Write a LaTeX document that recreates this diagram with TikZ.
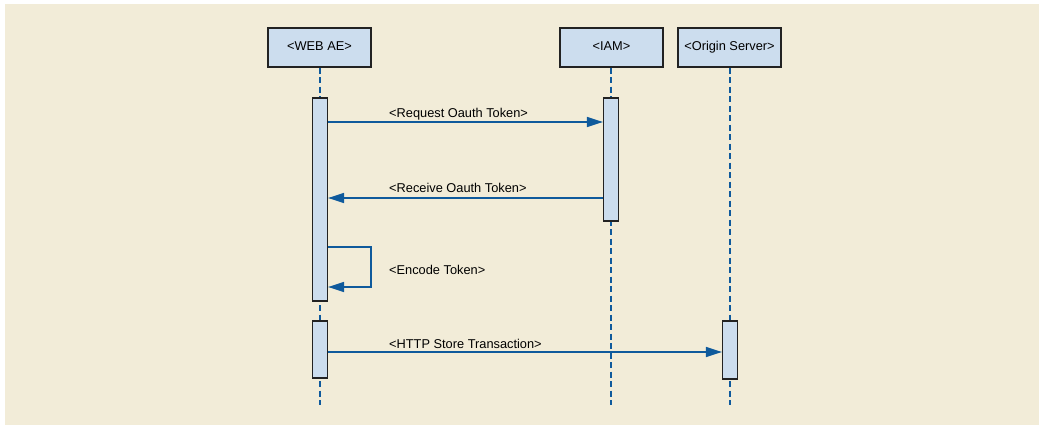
\documentclass[tikz,border=0pt]{standalone}
\usepackage{fontspec}
\setmainfont{Liberation Sans}
\usetikzlibrary{arrows.meta}
\definecolor{bgbeige}{HTML}{F2ECD8}
\definecolor{boxblue}{HTML}{CCDDEE}
\definecolor{msgblue}{HTML}{0F5A9C}
\definecolor{boxline}{HTML}{222222}
\tikzset{
  actor/.style={draw=boxline, line width=1.2pt, fill=boxblue, minimum width=103pt, minimum height=39pt, inner sep=0pt, text height=9.2pt, text depth=2.6pt, font=\fontsize{12.8}{15}\selectfont},
  activation/.style={draw=boxline, line width=1.2pt, fill=boxblue, minimum width=15pt, inner sep=0pt},
  lifeline/.style={draw=msgblue, line width=1.4pt, dash pattern=on 6pt off 3.5pt},
  msg/.style={draw=msgblue, line width=1.5pt, -{Triangle[length=16pt,width=10pt]}},
  msglabel/.style={anchor=base west, inner sep=0pt, font=\fontsize{12.8}{15}\selectfont}
}
\begin{document}
\begin{tikzpicture}[x=1pt,y=-1pt]
\useasboundingbox (0,0) rectangle (1039,425);
\fill[bgbeige] (5,4) rectangle (1039,425);
% actors
\node[actor] (web) at (319.5,47.5) {<WEB AE>};
\node[actor] (iam) at (611.5,47.5) {<IAM>};
\node[actor] (orig) at (729.5,47.5) {<Origin Server>};
% lifeline ends
\coordinate (webend) at (320,405);
\coordinate (iamend) at (611,405);
\coordinate (origend) at (730,405);
\draw[lifeline] (web.south -| webend) -- (webend);
\draw[lifeline] (iam.south -| iamend) -- (iamend);
\draw[lifeline] (orig.south -| origend) -- (origend);
% activations
\node[activation, minimum height=203pt] (web1) at (320,199.5) {};
\node[activation, minimum height=57pt] (web2) at (320,349.5) {};
\node[activation, minimum height=123pt] (iam1) at (611,159.5) {};
\node[activation, minimum height=58pt] (orig1) at (730,350) {};
% message levels
\coordinate (yreq) at (0,122);
\coordinate (yrec) at (0,198);
\coordinate (yenc1) at (0,247);
\coordinate (yenc2) at (0,287);
\coordinate (xenc) at (371,0);
\coordinate (yhttp) at (0,352);
% messages
\draw[msg] (web1.east |- yreq) -- (iam1.west |- yreq);
\draw[msg] (iam1.west |- yrec) -- (web1.east |- yrec);
\draw[msg] (web1.east |- yenc1) -- (xenc |- yenc1) -- (xenc |- yenc2) -- (web1.east |- yenc2);
\draw[msg] (web2.east |- yhttp) -- (orig1.west |- yhttp);
% labels
\node[msglabel] (lreq) at (389,117.3) {<Request Oauth Token>};
\node[msglabel] (lrec) at (389,193) {<Receive Oauth Token>};
\node[msglabel] (lenc) at (389,274) {<Encode Token>};
\node[msglabel] (lhttp) at (389,348) {<HTTP Store Transaction>};
\end{tikzpicture}
\end{document}
